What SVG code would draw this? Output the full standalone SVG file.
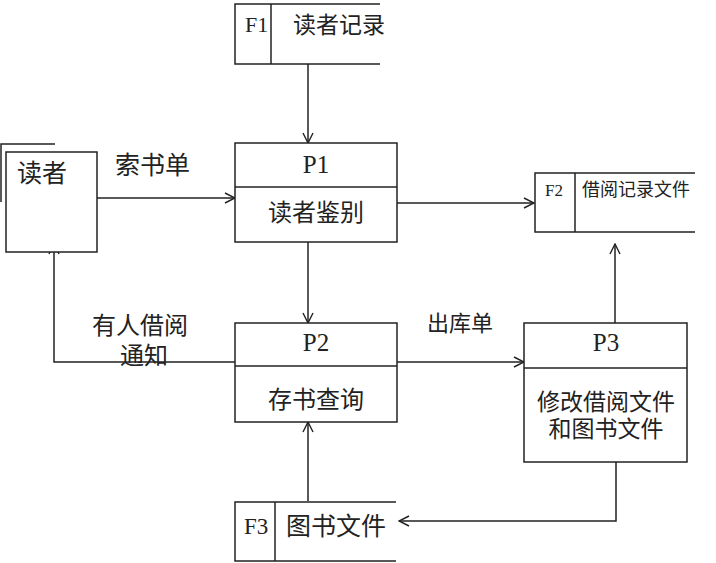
<svg xmlns="http://www.w3.org/2000/svg" width="716" height="563" viewBox="0 0 716 563">
<style>
.ln{fill:none;stroke:#222;stroke-width:1.5}
.bx{fill:#fff;stroke:#222;stroke-width:1.5}
.t{font-family:"Liberation Serif","Noto Sans CJK SC",serif;fill:#222}
.c{text-anchor:middle}
.p{font-size:25px}
</style>
<defs>
<marker id="ah" viewBox="0 0 12 12" refX="11" refY="6" markerWidth="12" markerHeight="12" markerUnits="userSpaceOnUse" orient="auto">
<path d="M1,1 L11,6 L1,11" fill="none" stroke="#222" stroke-width="1.4"/>
</marker>
</defs>
<rect width="716" height="563" fill="#fff"/>
<g id="connectors">
<line class="ln" x1="308" y1="64" x2="308" y2="143" marker-end="url(#ah)"/>
<line class="ln" x1="97" y1="198" x2="235" y2="198" marker-end="url(#ah)"/>
<line class="ln" x1="397" y1="203" x2="534" y2="203" marker-end="url(#ah)"/>
<line class="ln" x1="308" y1="242" x2="308" y2="323" marker-end="url(#ah)"/>
<polyline class="ln" points="235,362 54,362 54,244" marker-end="url(#ah)"/>
<line class="ln" x1="397" y1="362" x2="524" y2="362" marker-end="url(#ah)"/>
<line class="ln" x1="615" y1="323" x2="615" y2="244" marker-end="url(#ah)"/>
<polyline class="ln" points="616,462 616,521 399,521" marker-end="url(#ah)"/>
<line class="ln" x1="308" y1="501" x2="308" y2="422" marker-end="url(#ah)"/>
<text class="t" x="115" y="174" font-size="25">索书单</text>
<text class="t" x="92" y="334" font-size="24">有人借阅</text>
<text class="t" x="120" y="364" font-size="24">通知</text>
<text class="t" x="427" y="331" font-size="22">出库单</text>
</g>
<g id="reader">
<polyline class="ln" points="1,202 1,144 55,144"/>
<rect class="bx" x="6" y="152" width="91" height="100"/>
<text class="t" x="17" y="182" font-size="25">读者</text>
</g>
<g id="F1">
<polyline class="ln" points="380,4 235,4 235,64 380,64"/>
<line class="ln" x1="271" y1="4" x2="271" y2="64"/>
<text class="t" x="245" y="32" font-size="22">F1</text>
<text class="t" x="293" y="33" font-size="23">读者记录</text>
</g>
<g id="P1">
<rect class="bx" x="235" y="143" width="162" height="99"/>
<line class="ln" x1="235" y1="187" x2="397" y2="187"/>
<text class="t c p" x="316" y="173">P1</text>
<text class="t c" x="316" y="221" font-size="24">读者鉴别</text>
</g>
<g id="F2">
<polyline class="ln" points="695,173 535,173 535,232 695,232"/>
<line class="ln" x1="575" y1="173" x2="575" y2="232"/>
<text class="t" x="545" y="196" font-size="17">F2</text>
<text class="t" x="582" y="196" font-size="18">借阅记录文件</text>
</g>
<g id="P2">
<rect class="bx" x="235" y="323" width="162" height="99"/>
<line class="ln" x1="235" y1="366" x2="397" y2="366"/>
<text class="t c p" x="316" y="351">P2</text>
<text class="t c" x="316" y="408" font-size="24">存书查询</text>
</g>
<g id="P3">
<rect class="bx" x="524" y="323" width="163" height="139"/>
<line class="ln" x1="524" y1="368" x2="687" y2="368"/>
<text class="t c p" x="606" y="351">P3</text>
<text class="t c" x="606" y="410" font-size="23">修改借阅文件</text>
<text class="t c" x="606" y="437" font-size="23">和图书文件</text>
</g>
<g id="F3">
<polyline class="ln" points="396,502 235,502 235,561 396,561"/>
<line class="ln" x1="275" y1="502" x2="275" y2="561"/>
<text class="t" x="244" y="534" font-size="23">F3</text>
<text class="t" x="286" y="535" font-size="25">图书文件</text>
</g>
</svg>
